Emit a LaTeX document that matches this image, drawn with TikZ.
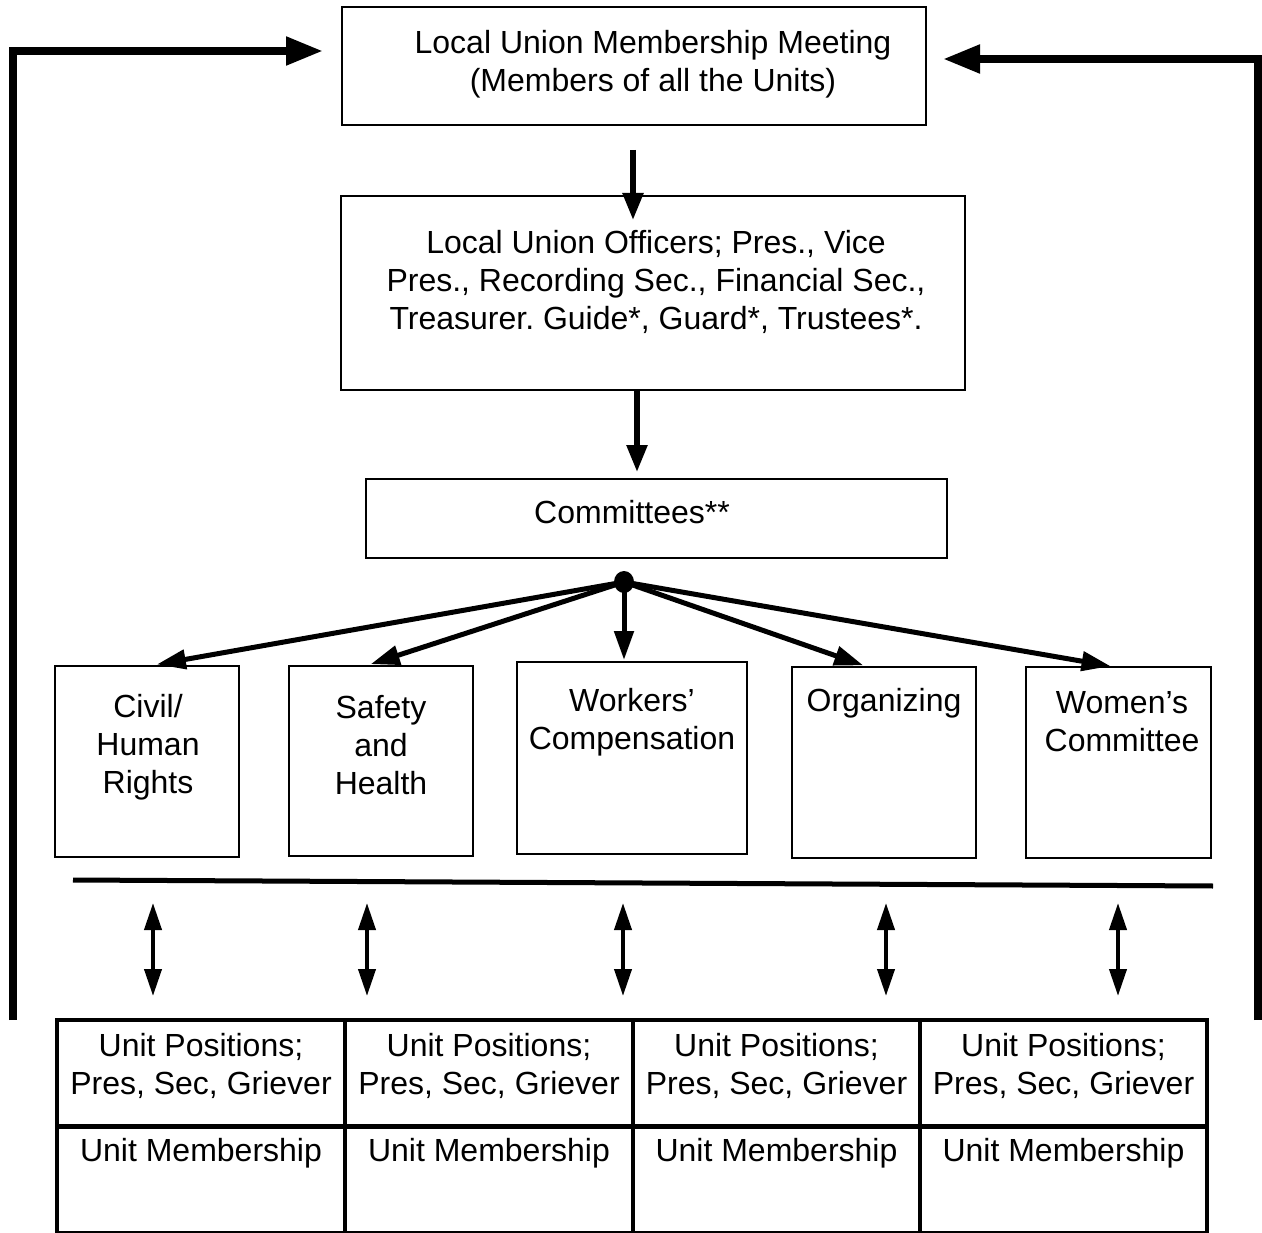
\documentclass[tikz,border=0pt]{standalone}
\usepackage{fontspec}
\setmainfont{Liberation Sans}
\frenchspacing
\usetikzlibrary{arrows.meta,positioning,shapes.geometric}
\tikzset{
    box/.style={rectangle, draw, line width=2.5pt, inner sep=0pt, outer sep=0pt, anchor=north west},
    cell/.style={box, line width=4.5pt, minimum height=106.5pt},
    txt/.style={align=center, inner sep=0pt, font=\fontsize{32}{38}\selectfont},
    feedback/.style={-{Triangle[length=37pt,width=27pt]}, line width=8pt},
    flow/.style={-{Triangle[length=27pt,width=20pt]}, line width=5.5pt},
    fan/.style={-{Triangle[length=29pt,width=19pt]}, line width=5pt},
    both/.style={{Triangle[length=27pt,width=17pt]}-{Triangle[length=27pt,width=17pt]}, line width=4pt}
}
\begin{document}
\begin{tikzpicture}[x=1pt, y=-1pt]
    \useasboundingbox (0,0) rectangle (1262,1233);
    \node[box, minimum width=584pt, minimum height=118pt] (meet) at (342,7) {};
    \node[txt] (meet-t) at (653,64) {Local Union Membership Meeting\\(Members of all the Units)};
    \node[box, minimum width=624pt, minimum height=194pt] (off) at (341,196) {};
    \node[txt] (off-t) at (656,282) {Local Union Officers; Pres., Vice\\Pres., Recording Sec., Financial Sec.,\\Treasurer. Guide*, Guard*, Trustees*.};
    \node[box, minimum width=581pt, minimum height=79pt] (comm) at (366,479) {};
    \node[txt] (comm-t) at (632,512) {Committees**};
    \node[ellipse, fill, minimum width=20pt, minimum height=22pt, inner sep=0pt] (hub) at (624,582) {};
    \node[box, minimum width=184pt, minimum height=191pt] (civil) at (55,666) {};
    \node[txt] (civil-t) at (148,747) {Civil/\\Human\\Rights};
    \node[box, minimum width=184pt, minimum height=190pt] (safe) at (289,666) {};
    \node[txt] (safe-t) at (381,745) {Safety\\and\\Health};
    \node[box, minimum width=230pt, minimum height=192pt] (work) at (517,662) {};
    \node[txt] (work-t) at (632,722) {Workers'\\Compensation};
    \node[box, minimum width=184pt, minimum height=191pt] (org) at (792,667) {};
    \node[txt] (org-t) at (884,703) {Organizing};
    \node[box, minimum width=185pt, minimum height=191pt] (women) at (1026,667) {};
    \node[txt] (women-t) at (1122,722) {Women's\\Committee};
    \foreach \x/\w [count=\i] in {57/288,345/288,633/287,920/287} {
        \node[cell, minimum width=\w pt] (pos\i) at (\x,1020) {};
        \node[cell, minimum width=\w pt] (mem\i) at (\x,1126.5) {};
        \node[txt] (pos\i-t) at ([yshift=-46pt]pos\i.north) {Unit Positions;\\Pres, Sec, Griever};
        \node[txt] (mem\i-t) at ([yshift=-27pt]mem\i.north) {Unit Membership};
    }
    \coordinate (lb) at (13,1020);
    \coordinate (lin) at (323,51);
    \coordinate (rb) at (1258,1020);
    \coordinate (rin) at (943,59);
    \draw[feedback] (lb) |- (lin);
    \draw[feedback] (rb) |- (rin);
    \draw[flow, shorten <=25pt, shorten >=-24pt] ([xshift=-1pt]meet.south) -- ([xshift=-1pt]meet.south |- off.north);
    \draw[flow, shorten >=7pt] ([xshift=3pt]meet.south |- off.south) -- ([xshift=3pt]meet.south |- comm.north);
    \draw[fan, shorten >=9pt] (hub.center) -- ([xshift=1pt]civil.north);
    \draw[fan, shorten >=6pt] (hub.center) -- ([xshift=-16pt]safe.north);
    \draw[fan, shorten >=2pt] (hub.center) -- (hub |- work.north);
    \draw[fan, shorten >=5pt] (hub.center) -- ([xshift=-16pt]org.north);
    \draw[fan, shorten >=5pt] (hub.center) -- ([xshift=-3pt]women.north);
    \coordinate (barl) at (73,880);
    \coordinate (barr) at (1213,886);
    \draw[line width=5pt] (barl) -- (barr);
    \foreach \x [count=\i] in {153,367,623,886,1118} {
        \coordinate (up\i) at (\x,903);
        \coordinate (dn\i) at (\x,996);
        \draw[both] (up\i) -- (dn\i);
    }
\end{tikzpicture}
\end{document}
